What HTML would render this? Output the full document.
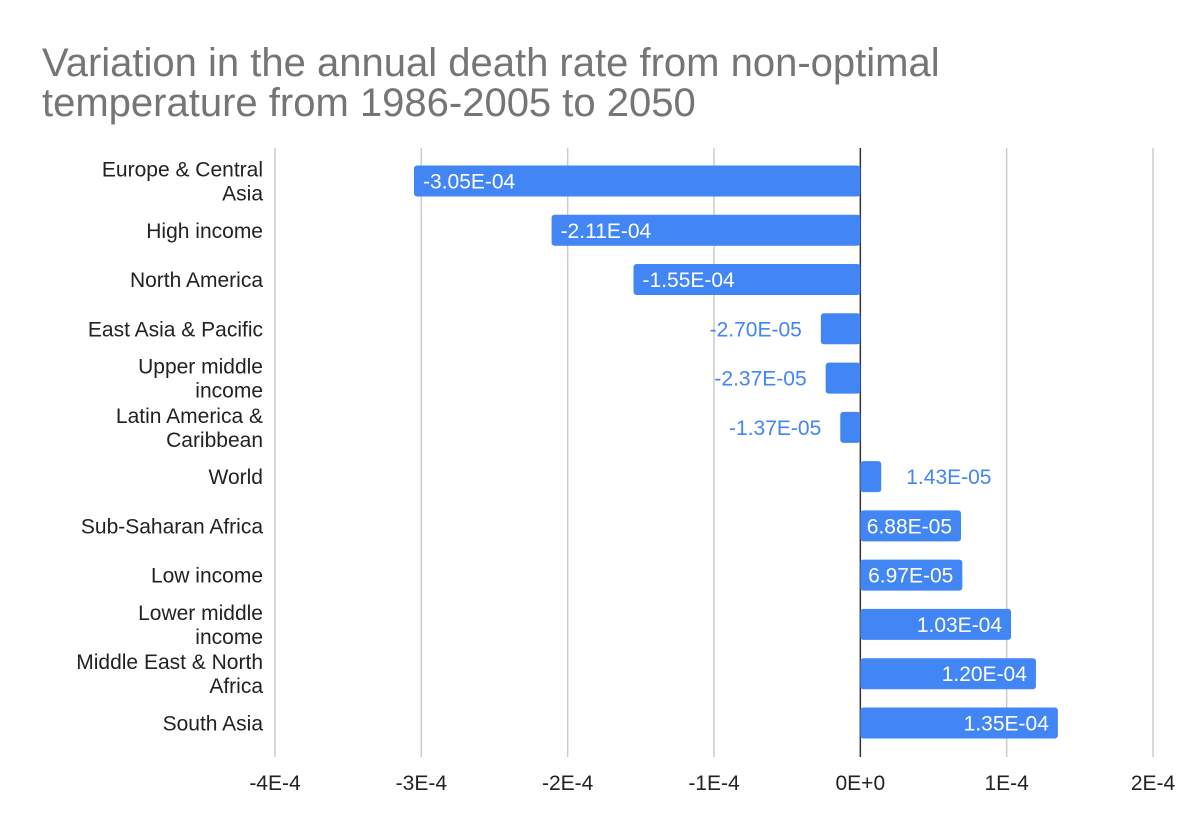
<!DOCTYPE html>
<html><head><meta charset="utf-8">
<style>
body{margin:0;background:#fff;width:1194px;height:834px;overflow:hidden;font-family:"Liberation Sans",Arial,sans-serif;}
</style></head>
<body>
<svg id="chart" width="1194" height="834" xmlns="http://www.w3.org/2000/svg" font-family="Liberation Sans, Arial, sans-serif">
<rect width="1194" height="834" fill="#fff"/>
<text x="42" y="76" font-size="40" fill="#757575">Variation in the annual death rate from non-optimal</text>
<text x="42" y="116" font-size="40" fill="#757575">temperature from 1986-2005 to 2050</text>
<g id="grid"></g><g id="bars"></g><g id="labels"></g>
</svg>
<script>
const categories=[["Europe & Central","Asia"],["High income"],["North America"],["East Asia & Pacific"],["Upper middle","income"],["Latin America &","Caribbean"],["World"],["Sub-Saharan Africa"],["Low income"],["Lower middle","income"],["Middle East & North","Africa"],["South Asia"]];
const values=[-3.05e-4,-2.11e-4,-1.55e-4,-2.70e-5,-2.37e-5,-1.37e-5,1.43e-5,6.88e-5,6.97e-5,1.03e-4,1.20e-4,1.35e-4];
const valueLabels=["-3.05E-04","-2.11E-04","-1.55E-04","-2.70E-05","-2.37E-05","-1.37E-05","1.43E-05","6.88E-05","6.97E-05","1.03E-04","1.20E-04","1.35E-04"];
const ticks=[-4e-4,-3e-4,-2e-4,-1e-4,0,1e-4,2e-4];
const tickLabels=["-4E-4","-3E-4","-2E-4","-1E-4","0E+0","1E-4","2E-4"];

const NS="http://www.w3.org/2000/svg";
const x0=275,x1=1153,vmin=-4e-4,vmax=2e-4,plotTop=148,plotBottom=757,rowStep=49.27,firstCenter=181,barH=31,fs=21;
const xs=v=>x0+(v-vmin)/(vmax-vmin)*(x1-x0);
const yc=i=>firstCenter+i*rowStep;
function mk(tag,attrs,parent){const e=document.createElementNS(NS,tag);for(const k in attrs)e.setAttribute(k,attrs[k]);parent.appendChild(e);return e;}
const grid=document.getElementById('grid'),bars=document.getElementById('bars'),labels=document.getElementById('labels');
ticks.forEach((t,i)=>{
  const x=xs(t);
  const l=mk('line',{x1:x,x2:x,y1:plotTop,y2:plotBottom,stroke:t===0?'#333':'#ccc','stroke-width':1.5},grid);
  
  
  const tx=mk('text',{x:x,y:790,'font-size':fs,'text-anchor':'middle',fill:'#222'},labels);
  tx.textContent=tickLabels[i];
  
  
});
values.forEach((v,i)=>{
  const c=yc(i),xa=xs(0),xb=xs(v);
  const r=mk('rect',{x:Math.min(xa,xb),y:c-barH/2,width:Math.abs(xb-xa),height:barH,rx:3,fill:'#4285f4'},bars);
  
  
  const inside=Math.abs(v)>6e-5;
  let tx;
  if(v<0){
    tx=inside?mk('text',{x:xb+9,y:c+7.5,'text-anchor':'start',fill:'#fff'},labels):mk('text',{x:xb-19,y:c+7.5,'text-anchor':'end',fill:'#4285f4'},labels);
  }else{
    tx=inside?mk('text',{x:xb-9,y:c+7.5,'text-anchor':'end',fill:'#fff'},labels):mk('text',{x:xb+25,y:c+7.5,'text-anchor':'start',fill:'#4285f4'},labels);
  }
  tx.setAttribute('font-size',fs);
  tx.textContent=valueLabels[i];
  
  
  const lines=categories[i];
  lines.forEach((s,j)=>{
    const yy=lines.length===1?c+7.5:c-4.5+j*24;
    const ct=mk('text',{x:263,y:yy,'font-size':fs,'text-anchor':'end',fill:'#222'},labels);
    ct.textContent=s;
    
    
  });
});
</script>
</body></html>
